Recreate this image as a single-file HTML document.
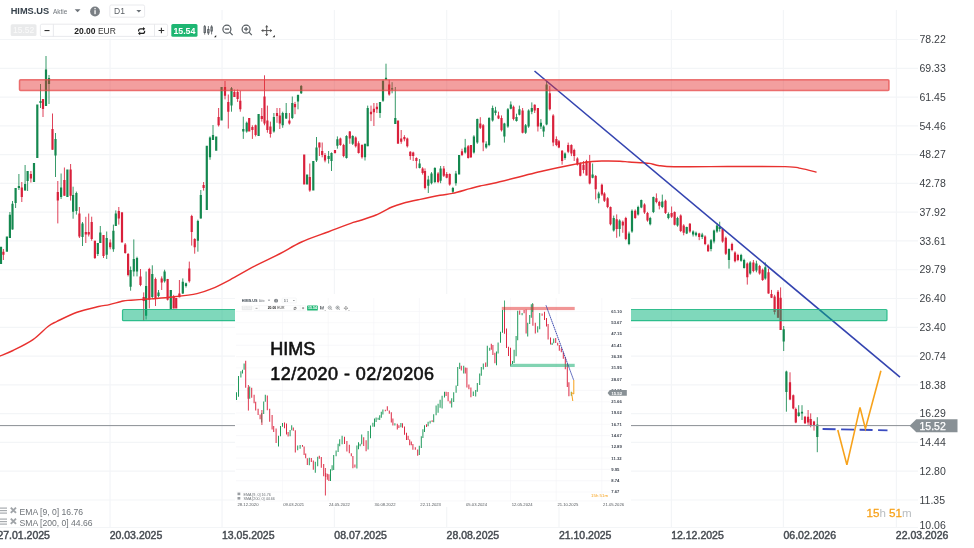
<!DOCTYPE html>
<html><head><meta charset="utf-8"><title>HIMS.US</title>
<style>
html,body{margin:0;padding:0;background:#fff;width:974px;height:548px;overflow:hidden;font-family:"Liberation Sans",sans-serif}
svg{position:absolute;left:0;top:0;display:block}
</style></head><body>
<svg width="974" height="548" viewBox="0 0 974 548" style="will-change:transform">
<rect width="974" height="548" fill="#fff"/>
<g stroke="#f3f5f7" stroke-width="1.2"><line x1="0" y1="39.5" x2="918" y2="39.5"/><line x1="0" y1="68.28" x2="918" y2="68.28"/><line x1="0" y1="97.06" x2="918" y2="97.06"/><line x1="0" y1="125.84" x2="918" y2="125.84"/><line x1="0" y1="154.62" x2="918" y2="154.62"/><line x1="0" y1="183.4" x2="918" y2="183.4"/><line x1="0" y1="212.18" x2="918" y2="212.18"/><line x1="0" y1="240.96" x2="918" y2="240.96"/><line x1="0" y1="269.74" x2="918" y2="269.74"/><line x1="0" y1="298.52" x2="918" y2="298.52"/><line x1="0" y1="327.3" x2="918" y2="327.3"/><line x1="0" y1="356.08" x2="918" y2="356.08"/><line x1="0" y1="384.86" x2="918" y2="384.86"/><line x1="0" y1="413.64" x2="918" y2="413.64"/><line x1="0" y1="442.42" x2="918" y2="442.42"/><line x1="0" y1="471.2" x2="918" y2="471.2"/><line x1="0" y1="499.98" x2="918" y2="499.98"/><line x1="0" y1="527.5" x2="918" y2="527.5"/><line x1="110.05" y1="10" x2="110.05" y2="527.5"/><line x1="222.05" y1="10" x2="222.05" y2="527.5"/><line x1="334.4" y1="10" x2="334.4" y2="527.5"/><line x1="446.7" y1="10" x2="446.7" y2="527.5"/><line x1="559" y1="10" x2="559" y2="527.5"/><line x1="671.4" y1="10" x2="671.4" y2="527.5"/><line x1="783.4" y1="10" x2="783.4" y2="527.5"/><line x1="896.4" y1="10" x2="896.4" y2="527.5"/></g>
<path d="M9.9 212V238M12.5 201V229.6M15.6 188V208M18.9 174V190M25.1 165V190.5M27.6 171V191M40.5 84V108M46 56V106M49 75V104M55.5 133V177M61.1 173.5V199M73.1 186.7V218.7M76.4 191.6V214.6M82.5 222V246M97.8 243V256M100.3 226V243M106.7 231.5V259M113.4 224.6V251.8M115.8 210.4V225.9M130.6 266.5V290.7M133.8 239.4V276.4M137 256.7V276.4M146.1 271.5V319.5M152.3 265.3V298.6M158.5 290V297.3M164.6 269.7V282.6M170.8 290V309.7M182.8 278.4V294M186 282.6V287.5M197.9 219.7V251.7M200.8 190V218.5M210 136.4V159.8M213 125V139M231.5 87V111.7M243.3 116.7V138.9M246.7 121.6V132.7M273.9 113V132.7M282.7 111.7V127.8M286.2 103V119M292.3 96.5V119.1M298 94.5V109.3M301.2 85V94M316.5 137V162M328.6 151V163.5M331.5 152.4V171M337.4 136.4V148.7M346.5 135.2V158.6M352.7 135.2V145M365 143.8V160.5M367.7 105.6V146.2M380 102V117.9M383 79.7V101.9M386 63.7V79.7M392.1 82.2V93.3M395.3 87V124M419.6 159V168.4M428.3 175.8V193M431.5 172.1V184.4M434.9 167.2V183.2M440.6 166V183.2M452.9 186.9V193M455.9 170.9V185.7M465.2 138.9V153.6M473.9 135.2V153.6M477.3 118.6V143.8M486.2 141.3V148.7M489.1 117.2V146.2M492.6 105.6V121.6M495.5 106.8V115.4M504.4 122.8V142.6M507.9 108V127.8M510.8 101.4V109.3M516.5 113.7V121.6M519.4 105.6V115.4M525.6 124V133.9M528.6 109.3V127.8M531.8 102.4V114.2M540.9 119.1V129M543.6 125.3V136.9M546.6 81V125.3M565 152.4V159.8M592.6 163.5V178.3M598.7 191.7V203.3M613.7 215.6V231.6M619.6 219.3V236.5M629 231.6V245.2M632 209.4V232.8M638.1 205.7V215.6M641.3 199.6V208.2M650.2 216.8V225.4M653.4 196.6V213.1M662.3 194.6V208.2M668.4 212.4V219.3M677.5 216.8V226.7M686.7 226.7V234.1M693.1 230.4V236.5M696 231.6V236.5M702.2 232.8V239M711 239V251.3M714 229.6V243.4M717 223V232.8M719.7 221.7V231.6M729 248.4V268.6M741.1 253.8V261.7M744.1 258.7V268.6M750.2 261.2V274.7M756.4 260.7V272.3M765.3 262.4V279.7M783.7 326V351M786.4 370.7V411.7M798.7 405.2V416.7M802 405.2V420M817.3 417.2V452.2" stroke="#14884f" stroke-width="1" stroke-opacity="0.85" fill="none"/><path d="M-0.1 246.8h2.2v17.2h-2.2zM5.8 236.5h2.2v15.2h-2.2zM8.8 214.8h2.2v23.2h-2.2zM11.4 203.7h2.2v25.9h-2.2zM14.5 188h2.2v15h-2.2zM17.8 186h2.2v2h-2.2zM24 184h2.2v6.5h-2.2zM26.5 171h2.2v10h-2.2zM32.9 163h2.2v19h-2.2zM36.2 104.5h2.2v53.5h-2.2zM39.4 101h2.2v2h-2.2zM44.9 69.5h2.2v36.5h-2.2zM47.9 78h2.2v6h-2.2zM54.4 139h2.2v16.5h-2.2zM60 187.5h2.2v9.5h-2.2zM66.3 169.4h2.2v27.6h-2.2zM72 195h2.2v16.8h-2.2zM75.3 193h2.2v18h-2.2zM81.4 223.4h2.2v13.6h-2.2zM96.7 243h2.2v11h-2.2zM99.2 232.5h2.2v10.5h-2.2zM105.6 238h2.2v16.7h-2.2zM112.3 230.8h2.2v18.5h-2.2zM114.7 213.6h2.2v12.3h-2.2zM129.5 270h2.2v16.7h-2.2zM132.7 259h2.2v12.5h-2.2zM135.9 258h2.2v13.5h-2.2zM145 286h2.2v29.8h-2.2zM151.2 274h2.2v23h-2.2zM157.4 292.4h2.2v3.6h-2.2zM163.5 271.5h2.2v9.8h-2.2zM169.7 290h2.2v19h-2.2zM181.7 281.8h2.2v11.8h-2.2zM184.9 283.3h2.2v2.7h-2.2zM196.8 221h2.2v19.7h-2.2zM199.7 195h2.2v23.5h-2.2zM205.7 145.8h2.2v64.1h-2.2zM208.9 137.6h2.2v19.7h-2.2zM211.9 135h2.2v5h-2.2zM215.1 136.4h2.2v14.3h-2.2zM220.5 87h2.2v33.4h-2.2zM230.4 88.3h2.2v17.3h-2.2zM242.2 129h2.2v2.5h-2.2zM245.6 122.8h2.2v8.7h-2.2zM257.5 114h2.2v22h-2.2zM272.8 117h2.2v14.5h-2.2zM281.6 113h2.2v12.3h-2.2zM285.1 113h2.2v5.6h-2.2zM291.2 103h2.2v15h-2.2zM296.9 95h2.2v6.4h-2.2zM300.1 86h2.2v7.3h-2.2zM306 174.6h2.2v9.8h-2.2zM312.2 161h2.2v29.6h-2.2zM315.4 147.5h2.2v13h-2.2zM327.5 156h2.2v3h-2.2zM330.4 153h2.2v8h-2.2zM336.3 139.3h2.2v6.5h-2.2zM345.4 136h2.2v22h-2.2zM351.6 136h2.2v7.8h-2.2zM363.9 143.8h2.2v13.5h-2.2zM366.6 108h2.2v38.2h-2.2zM378.9 102h2.2v11h-2.2zM381.9 81h2.2v19.7h-2.2zM384.9 77.7h2.2v2h-2.2zM391 88.3h2.2v1.3h-2.2zM394.2 118h2.2v6h-2.2zM418.5 163.5h2.2v4.5h-2.2zM427.2 179.5h2.2v6.2h-2.2zM430.4 173.4h2.2v9.8h-2.2zM433.8 168h2.2v14h-2.2zM439.5 168.4h2.2v12.3h-2.2zM451.8 188h2.2v3.8h-2.2zM454.8 173.4h2.2v9.8h-2.2zM458 154.9h2.2v19.7h-2.2zM464.1 147.5h2.2v4.9h-2.2zM472.8 136.4h2.2v16h-2.2zM476.2 119.1h2.2v23.5h-2.2zM485.1 143.8h2.2v3.7h-2.2zM488 118h2.2v27h-2.2zM491.5 108h2.2v12.4h-2.2zM494.4 110.5h2.2v2.5h-2.2zM503.3 123.6h2.2v12.8h-2.2zM506.8 109.3h2.2v17.2h-2.2zM509.7 104.4h2.2v4.4h-2.2zM515.4 117h2.2v4.1h-2.2zM518.3 109.3h2.2v5.4h-2.2zM524.5 125.3h2.2v7.4h-2.2zM527.5 110.5h2.2v16h-2.2zM530.7 108h2.2v3.7h-2.2zM539.8 122.8h2.2v3.7h-2.2zM542.5 126.5h2.2v5h-2.2zM545.5 84.6h2.2v40h-2.2zM563.9 153.6h2.2v4.4h-2.2zM591.5 174.4h2.2v3.4h-2.2zM597.6 193.4h2.2v4.9h-2.2zM612.6 218h2.2v12.4h-2.2zM618.5 220.5h2.2v8.5h-2.2zM627.9 233.6h2.2v10.4h-2.2zM630.9 210.7h2.2v20.9h-2.2zM637 207h2.2v7.4h-2.2zM640.2 200h2.2v7.5h-2.2zM649.1 218h2.2v6.2h-2.2zM652.3 197h2.2v15h-2.2zM661.2 201.5h2.2v5.5h-2.2zM667.3 213.9h2.2v4.1h-2.2zM676.4 218h2.2v7.4h-2.2zM685.6 227h2.2v6.6h-2.2zM692 231.6h2.2v3h-2.2zM694.9 232.8h2.2v2.5h-2.2zM701.1 234.6h2.2v2.4h-2.2zM709.9 240.2h2.2v8.7h-2.2zM712.9 230.4h2.2v11.1h-2.2zM715.9 225.4h2.2v6.2h-2.2zM718.6 226.7h2.2v2.4h-2.2zM727.9 248.9h2.2v11.1h-2.2zM740 255h2.2v5.7h-2.2zM743 260h2.2v8h-2.2zM749.1 262.4h2.2v11.1h-2.2zM755.3 263.6h2.2v6.9h-2.2zM764.2 267.3h2.2v11.1h-2.2zM782.6 329.3h2.2v12.3h-2.2zM785.3 371.5h2.2v20.5h-2.2zM797.6 412.6h2.2v3.3h-2.2zM800.9 411.7h2.2v1.7h-2.2zM816.2 424.6h2.2v12.4h-2.2z" fill="#14884f"/><path d="M3.4 249V260M21.8 182V202M30.9 171V182.5M43 99V117M52.5 113.5V149.7M57.8 181V223.4M64.4 167.5V195.7M70.6 164V200.6M79.4 207V238M85.8 216.8V243M88.7 213.5V236.5M91.7 216.7V240.7M94.9 240.7V259M103.5 235V258M110.2 239.4V249.3M118.8 207V224.6M125.2 243V253.7M128.1 253V276.4M140.5 269V286.2M143.7 292.4V320.7M149.3 267.8V308.4M155.5 277.6V306M161.7 276.4V290M167.6 278.9V300.5M173.7 294.9V308.4M179.4 280V297.3M189.3 261.6V282.6M191.7 214.8V245.6M194.7 238.2V253.7M203.6 182V190.6M218.6 108V126.5M225 81V99.4M228.3 94.5V128.5M234.4 89.6V97M237.6 89.6V101.9M240.3 90.8V111.7M252.4 125.3V138.9M255.6 124.6V136.4M261.8 108V121.6M264.5 75.3V125.3M267.4 105.6V132.7M270.4 121.6V137.6M277 108V122.8M279.8 108V129M289.4 113V124.6M295 101.9V114.2M309.8 163.5V191.8M319.4 142.5V156M322.2 142.5V157.3M325 153V162.3M335 150V153.6M340.4 137.6V145.8M343.6 143.8V157.3M349.8 131V143.8M355.7 136.4V147.5M358.6 141.3V153.6M362 144.3V158.6M371 105.6V121.1M373.9 103V126M376.9 103V113M389.2 79.7V95.7M401.2 130V143.8M404.4 135.2V141.3M407.3 137.6V147.5M410.3 151.2V159.8M413.2 151.7V161M416.4 157.3V168.4M422.6 167.2V174.6M425 168.4V189.4M438.1 172.1V183.2M443.8 166V177M446.7 172.1V178.3M449.7 173.4V185.7M462 148.7V156.1M468.2 145V158.6M470.9 145V158M480.3 117.2V129M483.2 124V151.2M498.5 111.7V119.1M501.5 115.4V131.5M513.5 105.6V120.4M522.6 108V133.4M534.7 104.4V113M537.9 108V131.5M549.8 85.9V110.5M553.2 114.2V146.2M556.4 136.4V146.2M558.9 140V148.2M562.1 150V164.7M568.2 142.6V153.2M571.4 144.3V156.1M574.2 148.7V161M577.4 157.3V165.5M580.3 162.3V176.3M583.5 161V173.4M586.5 159.8V175.4M589.7 154.9V184.4M595.7 175V199.6M601.9 183.6V195.9M604.4 192.2V202M607.6 197.1V208.2M610.5 206.5V225.4M616.7 214.4V237.8M622.8 220.5V232.8M625.8 216.8V240.2M635.2 209.4V218.8M644.5 203.3V213.9M647.5 211.9V221.7M656.4 193.4V203.3M659.3 200.8V209.4M665.5 199.6V213.9M671.6 206.5V218M674.6 211.4V225.4M680.7 214.4V232.1M683.7 224.2V235.3M689.9 223V232.8M699.2 232.8V240.2M705.1 235.3V245.2M708.1 243.9V251.8M722.6 227.9V242.7M725.8 236.5V255M732 242.7V251.3M735 251.3V262.4M737.9 253.8V261.2M747.3 262.4V284.6M753.4 260V272.3M759.6 264.9V274.7M762.6 268.6V280.9M768.5 268.6V293.7M771.5 289.9V298M774.6 294.8V314.5M778 290V317.8M780.6 287.4V330M790 372.3V400.2M793.3 394.5V409.3M795.8 407.6V423.2M805 415.9V424M808.1 410V424.9M810.7 413.4V427.3M814 420.8V430.6" stroke="#d9203b" stroke-width="1" stroke-opacity="0.85" fill="none"/><path d="M2.3 251.7h2.2v3h-2.2zM20.7 187.5h2.2v9.5h-2.2zM29.8 174h2.2v4.5h-2.2zM41.9 99h2.2v10h-2.2zM51.4 129h2.2v20.7h-2.2zM56.7 192h2.2v8.6h-2.2zM63.3 180h2.2v15.7h-2.2zM69.5 169.4h2.2v26.3h-2.2zM78.3 213.6h2.2v22.9h-2.2zM84.7 232h2.2v2.5h-2.2zM87.6 232h2.2v2.5h-2.2zM90.6 222h2.2v17h-2.2zM93.8 240.7h2.2v17.3h-2.2zM102.4 235h2.2v21h-2.2zM109.1 242.4h2.2v4.9h-2.2zM117.7 211h2.2v7.5h-2.2zM120.9 212.3h2.2v30.1h-2.2zM124.1 244.4h2.2v8.6h-2.2zM127 254h2.2v21h-2.2zM139.4 276.4h2.2v8.6h-2.2zM142.6 297h2.2v4h-2.2zM148.2 269h2.2v30.8h-2.2zM154.4 278.9h2.2v20.1h-2.2zM160.6 278.4h2.2v4.2h-2.2zM166.5 279h2.2v20.8h-2.2zM172.6 296.6h2.2v11.8h-2.2zM175.1 298h2.2v10.4h-2.2zM178.3 293.6h2.2v3.7h-2.2zM188.2 268.5h2.2v12.8h-2.2zM190.6 216h2.2v16h-2.2zM193.6 239h2.2v8.3h-2.2zM202.5 185h2.2v3h-2.2zM217.5 117h2.2v8.3h-2.2zM223.9 87h2.2v8.7h-2.2zM227.2 102h2.2v9.7h-2.2zM233.3 92h2.2v5h-2.2zM236.5 92h2.2v7h-2.2zM239.2 100.7h2.2v8.6h-2.2zM248.1 118h2.2v13.5h-2.2zM251.3 127h2.2v3h-2.2zM254.5 125.3h2.2v9.7h-2.2zM260.7 116h2.2v3h-2.2zM263.4 96.5h2.2v27.1h-2.2zM266.3 120.4h2.2v9.6h-2.2zM269.3 126.5h2.2v7.5h-2.2zM275.9 113h2.2v3h-2.2zM278.7 115.4h2.2v8.2h-2.2zM288.3 120.4h2.2v3.2h-2.2zM293.9 103.9h2.2v3.4h-2.2zM303.1 154.4h2.2v30h-2.2zM308.7 177h2.2v13.6h-2.2zM318.3 142.5h2.2v5h-2.2zM321.1 151h2.2v4h-2.2zM323.9 155h2.2v5.5h-2.2zM333.9 150h2.2v3h-2.2zM339.3 138.4h2.2v6.6h-2.2zM342.5 145h2.2v11h-2.2zM348.7 131.5h2.2v6.9h-2.2zM354.6 137.6h2.2v8.6h-2.2zM357.5 143.3h2.2v9.7h-2.2zM360.9 145h2.2v12.3h-2.2zM369.9 111.7h2.2v2.5h-2.2zM372.8 108.8h2.2v3.4h-2.2zM375.8 106.8h2.2v2.5h-2.2zM388.1 84.6h2.2v9.9h-2.2zM396.9 120.4h2.2v23.4h-2.2zM400.1 138.4h2.2v3.4h-2.2zM403.3 137h2.2v2.3h-2.2zM406.2 138.4h2.2v7.8h-2.2zM409.2 151.7h2.2v4.3h-2.2zM412.1 152.4h2.2v3.6h-2.2zM415.3 158h2.2v3h-2.2zM421.5 168.4h2.2v4.5h-2.2zM423.9 171h2.2v17h-2.2zM437 173.4h2.2v8.6h-2.2zM442.7 168.4h2.2v7.4h-2.2zM445.6 173.9h2.2v3.9h-2.2zM448.6 173.9h2.2v10.5h-2.2zM460.9 151.2h2.2v3.7h-2.2zM467.1 146.2h2.2v11.8h-2.2zM469.8 145h2.2v12.3h-2.2zM479.2 123.6h2.2v4.2h-2.2zM482.1 125.3h2.2v17.3h-2.2zM497.4 115.4h2.2v3.2h-2.2zM500.4 118h2.2v12.2h-2.2zM512.4 106.8h2.2v12.3h-2.2zM521.5 110.5h2.2v22.2h-2.2zM533.6 104.8h2.2v5.7h-2.2zM536.8 108h2.2v18.5h-2.2zM548.7 93.3h2.2v16h-2.2zM552.1 115.4h2.2v27.2h-2.2zM555.3 138.9h2.2v6.1h-2.2zM557.8 141.3h2.2v6.2h-2.2zM561 150.7h2.2v10.3h-2.2zM567.1 145h2.2v6.7h-2.2zM570.3 145h2.2v8.6h-2.2zM573.1 150h2.2v6h-2.2zM576.3 158.6h2.2v6.1h-2.2zM579.2 163.5h2.2v12.3h-2.2zM582.4 164.7h2.2v5.3h-2.2zM585.4 161h2.2v14.4h-2.2zM588.6 162.3h2.2v21.3h-2.2zM594.6 176h2.2v13.2h-2.2zM600.8 184.8h2.2v9.8h-2.2zM603.3 193.4h2.2v7.4h-2.2zM606.5 198.3h2.2v8.7h-2.2zM609.4 207h2.2v17.2h-2.2zM615.6 219.3h2.2v9.7h-2.2zM621.7 221.7h2.2v3.7h-2.2zM624.7 218h2.2v21h-2.2zM634.1 210.7h2.2v7.3h-2.2zM643.4 204.5h2.2v7.9h-2.2zM646.4 213h2.2v7.5h-2.2zM655.3 198.3h2.2v3.7h-2.2zM658.2 202h2.2v3.7h-2.2zM664.4 200.8h2.2v12.2h-2.2zM670.5 213h2.2v3.8h-2.2zM673.5 211.9h2.2v12.8h-2.2zM679.6 215.6h2.2v15.4h-2.2zM682.6 225.4h2.2v7.4h-2.2zM688.8 223.7h2.2v7.9h-2.2zM698.1 233.6h2.2v3.4h-2.2zM704 236.5h2.2v7.5h-2.2zM707 245.2h2.2v6.1h-2.2zM721.5 229.1h2.2v12.4h-2.2zM724.7 237.8h2.2v16h-2.2zM730.9 243.9h2.2v6.1h-2.2zM733.9 252.6h2.2v8.6h-2.2zM736.8 255h2.2v5h-2.2zM746.2 263.6h2.2v13.6h-2.2zM752.3 262.4h2.2v8.6h-2.2zM758.5 266h2.2v7.5h-2.2zM761.5 269.8h2.2v10.2h-2.2zM767.4 272.3h2.2v21.2h-2.2zM770.4 294h2.2v3.7h-2.2zM773.5 296.4h2.2v15.6h-2.2zM776.9 291.8h2.2v26h-2.2zM779.5 297.7h2.2v32.3h-2.2zM788.9 382.2h2.2v17.2h-2.2zM792.2 395.3h2.2v13.2h-2.2zM794.7 409h2.2v13.4h-2.2zM803.9 416.7h2.2v6.5h-2.2zM807 416.7h2.2v5.7h-2.2zM809.6 419.1h2.2v6.6h-2.2zM812.9 421.6h2.2v3.3h-2.2z" fill="#d9203b"/>
<path d="M0 356C2.17 355.08 7.5 353.23 13 350.5C18.5 347.77 27.17 343.6 33 339.6C38.83 335.6 44 329.53 48 326.5C52 323.47 52.17 323.78 57 321.4C61.83 319.02 70.07 314.68 77 312.2C83.93 309.72 93.2 307.77 98.6 306.5C104 305.23 105.33 305.52 109.4 304.6C113.47 303.68 119.4 301.73 123 301C126.6 300.27 126.83 300.53 131 300.2C135.17 299.87 144.33 299.25 148 299C151.67 298.75 148.92 299.03 153 298.7C157.08 298.37 165.17 297.85 172.5 297C179.83 296.15 190.42 294.98 197 293.6C203.58 292.22 206.5 291 212 288.7C217.5 286.4 222.9 283.55 230 279.8C237.1 276.05 246.38 270.5 254.6 266.2C262.82 261.9 271.48 258.03 279.3 254C287.12 249.97 293.28 245.72 301.5 242C309.72 238.28 319.98 234.97 328.6 231.7C337.22 228.43 347.97 224.27 353.2 222.4C358.43 220.53 356.2 221.73 360 220.5C363.8 219.27 370.67 217.25 376 215C381.33 212.75 387.48 208.95 392 207C396.52 205.05 398.58 204.53 403.1 203.3C407.62 202.07 412.95 200.93 419.1 199.6C425.25 198.27 434.45 196.33 440 195.3C445.55 194.27 447.4 194.52 452.4 193.4C457.4 192.28 465.4 189.83 470 188.6C474.6 187.37 476.07 186.9 480 186C483.93 185.1 483.12 185.7 493.6 183.2C504.08 180.7 529.77 174.08 542.9 171C556.03 167.92 564.22 166.28 572.4 164.7C580.58 163.12 586.65 162.12 592 161.5C597.35 160.88 599.83 161.05 604.5 161C609.17 160.95 615.92 161.03 620 161.2C624.08 161.37 625.23 161.73 629 162C632.77 162.27 639.2 162.57 642.6 162.8C646 163.03 646.58 162.92 649.4 163.4C652.22 163.88 655.37 165.13 659.5 165.7C663.63 166.27 665.72 166.65 674.2 166.8C682.68 166.95 691.93 166.63 710.4 166.6C728.87 166.57 769.95 166.3 785 166.6C800.05 166.9 795.45 167.47 800.7 168.4C805.95 169.33 813.87 171.57 816.5 172.2" fill="none" stroke="#e8312f" stroke-width="1.45" stroke-linejoin="round"/>
<line x1="534.5" y1="71" x2="900" y2="377.2" stroke="#3444b0" stroke-width="1.6"/><line x1="0" y1="425.6" x2="912" y2="425.6" stroke="#8a8f94" stroke-width="1"/><line x1="822.6" y1="429" x2="887.5" y2="430.3" stroke="#3a4bc0" stroke-width="1.8" stroke-dasharray="13 5.5"/><polyline points="837.8,430 846.9,464.9 860,407.4 865.4,428.7 880.9,370.7" fill="none" stroke="#f7a21b" stroke-width="1.6" stroke-linejoin="miter"/>
<rect x="19.5" y="79.8" width="869.5" height="10.7" rx="1" fill="rgba(228,45,45,0.46)" stroke="rgba(228,70,70,0.72)" stroke-width="1.5"/><rect x="122.5" y="309.5" width="764.5" height="11.2" rx="1" fill="rgba(0,178,120,0.5)" stroke="rgba(25,182,128,0.85)" stroke-width="1.2"/>
<rect x="235" y="294" width="396" height="213" fill="#fff"/><g stroke="#f3f4f6" stroke-width="0.6"><line x1="236" y1="311.5" x2="610" y2="311.5"/><line x1="236" y1="322.78" x2="610" y2="322.78"/><line x1="236" y1="334.06" x2="610" y2="334.06"/><line x1="236" y1="345.34" x2="610" y2="345.34"/><line x1="236" y1="356.62" x2="610" y2="356.62"/><line x1="236" y1="367.9" x2="610" y2="367.9"/><line x1="236" y1="379.18" x2="610" y2="379.18"/><line x1="236" y1="390.46" x2="610" y2="390.46"/><line x1="236" y1="401.74" x2="610" y2="401.74"/><line x1="236" y1="413.02" x2="610" y2="413.02"/><line x1="236" y1="424.3" x2="610" y2="424.3"/><line x1="236" y1="435.58" x2="610" y2="435.58"/><line x1="236" y1="446.86" x2="610" y2="446.86"/><line x1="236" y1="458.14" x2="610" y2="458.14"/><line x1="236" y1="469.42" x2="610" y2="469.42"/><line x1="236" y1="480.7" x2="610" y2="480.7"/><line x1="236" y1="491.98" x2="610" y2="491.98"/><line x1="236" y1="501" x2="610" y2="501"/><line x1="282.6" y1="298" x2="282.6" y2="501"/><line x1="328.2" y1="298" x2="328.2" y2="501"/><line x1="373.8" y1="298" x2="373.8" y2="501"/><line x1="419.4" y1="298" x2="419.4" y2="501"/><line x1="465" y1="298" x2="465" y2="501"/><line x1="510.6" y1="298" x2="510.6" y2="501"/><line x1="556.2" y1="298" x2="556.2" y2="501"/><line x1="601.8" y1="298" x2="601.8" y2="501"/></g><path d="M236 392.31h1v7.7h-1zM238 375.92h1v20.82h-1zM240.4 371.15h1v6.32h-1zM242 369.72h1v3.71h-1zM243.6 363.52h1v6.23h-1zM249.2 386.41h1v12.24h-1zM261.2 413.03h1v9.42h-1zM263.2 401.53h1v12.4h-1zM264.8 394.67h1v7.01h-1zM278 435.78h1v10.72h-1zM280 426.08h1v10.26h-1zM282 423.02h1v3.81h-1zM289.6 430.07h1v6.11h-1zM291.2 425.27h1v5.08h-1zM297.2 445.53h1v4.61h-1zM299.6 445.01h1v3.71h-1zM308.8 457.73h1v7.58h-1zM314.8 461.81h1v10.86h-1zM317.2 456.82h1v9.38h-1zM330 469.14h1v11.89h-1zM331.6 465.13h1v5.27h-1zM333.2 455.06h1v15.03h-1zM335.6 450.38h1v5.79h-1zM337.6 443.78h1v8.25h-1zM339.2 439.37h1v6.84h-1zM341.6 435.87h1v8.26h-1zM356.4 445.53h1v23.06h-1zM358 442.15h1v7.1h-1zM359.6 443.69h1v2.67h-1zM361.2 434.62h1v9.75h-1zM367.6 431.02h1v18.43h-1zM370 425.43h1v12.81h-1zM372.4 422.71h1v4h-1zM374 418.56h1v8.26h-1zM375.6 417.49h1v4.49h-1zM377.6 417.8h1v1.92h-1zM379.2 415.36h1v4.57h-1zM380.8 411.63h1v6.05h-1zM382.4 409.56h1v4.92h-1zM394.4 423.36h1v2.22h-1zM400.4 423.1h1v4.17h-1zM418.8 445.84h1v9.09h-1zM420.8 436.29h1v11.68h-1zM422.4 429.24h1v8.64h-1zM424 425.27h1v6.75h-1zM427.6 421.63h1v4.71h-1zM429.6 420.69h1v2.75h-1zM433.2 414.35h1v7.96h-1zM435.6 405.41h1v9.94h-1zM437.6 403.75h1v8.92h-1zM439.6 399.65h1v8.19h-1zM441.6 395.64h1v12.75h-1zM444 391.83h1v5.66h-1zM451.2 398.3h1v9.28h-1zM453.2 392.15h1v9.96h-1zM455.6 385.61h1v7.2h-1zM457.2 366.91h1v18.98h-1zM459.2 362.8h1v6.14h-1zM463.2 365.8h1v7.58h-1zM472.8 391.56h1v4.36h-1zM475.2 390.11h1v6.27h-1zM476.8 383.01h1v8.67h-1zM479.2 373.51h1v11.41h-1zM480.8 366.9h1v8.96h-1zM482.8 363.38h1v6.23h-1zM486.8 345.75h1v20.99h-1zM489.2 347.87h1v2.95h-1zM496 351.56h1v13.75h-1zM497.6 342.45h1v11.03h-1zM500 331.74h1v10.92h-1zM502 310.06h1v22.7h-1zM512 361.07h1v2.9h-1zM513.6 349.68h1v13.35h-1zM515.6 335.9h1v20.43h-1zM517.2 310.86h1v29.34h-1zM521.6 313.05h1v2.16h-1zM527.2 322.87h1v13.66h-1zM529.2 314.88h1v9.02h-1zM530.8 304.15h1v13.53h-1zM537.2 326.19h1v6.39h-1zM539.2 312.95h1v16.22h-1zM551.6 342.78h1v2.27h-1zM553.2 338.46h1v4.85h-1zM570.8 391.7h1v4.03h-1z" fill="#1f9a5c"/><path d="M245.2 360.76h1v26.87h-1zM247.6 387.53h1v11.13h-1zM251.2 387.87h1v9.84h-1zM253.6 394.64h1v8.66h-1zM255.2 401.75h1v8.83h-1zM257.6 408.75h1v6.18h-1zM259.6 414.38h1v4.85h-1zM266.8 395.38h1v14.98h-1zM269.2 408.81h1v12.96h-1zM271.6 414.9h1v14.6h-1zM273.2 426.08h1v5.81h-1zM275.6 428.43h1v14.46h-1zM284 422.39h1v5.91h-1zM286 423.59h1v10.98h-1zM287.6 432.12h1v4.47h-1zM292.8 427.59h1v3.24h-1zM294.8 430.15h1v22.38h-1zM302 444.98h1v1.69h-1zM303.6 446.45h1v8.66h-1zM305.2 453.39h1v4.9h-1zM306.8 458.22h1v6.75h-1zM310.8 457.96h1v3.95h-1zM312.8 460.4h1v9.28h-1zM318.8 455.69h1v3.14h-1zM320.8 456.96h1v10.85h-1zM323.2 464.07h1v12.27h-1zM325.2 473.03h1v3.93h-1zM326.8 473.67h1v6.14h-1zM328.4 474.22h1v6.86h-1zM344 436.8h1v7.25h-1zM346.4 441.02h1v10.43h-1zM348.8 444.71h1v8.66h-1zM350.8 453.27h1v2.86h-1zM352.4 455.93h1v12.2h-1zM354.4 464.5h1v3.06h-1zM363.2 437.17h1v8.71h-1zM365.6 440.18h1v11.13h-1zM384.8 409.63h1v1.53h-1zM386.8 406.33h1v4.39h-1zM388.8 410.47h1v3.4h-1zM390.8 412.17h1v10.26h-1zM392.4 418.61h1v6.8h-1zM396.8 423.75h1v5.75h-1zM398.4 425.3h1v2.78h-1zM402 423.36h1v4.46h-1zM404 426.4h1v8.33h-1zM406 432.65h1v7.33h-1zM407.6 435.79h1v4.31h-1zM409.2 439.54h1v5.67h-1zM410.8 441.44h1v3.72h-1zM412.4 444.06h1v5.6h-1zM414.8 447.35h1v2.4h-1zM417.2 449.57h1v6.07h-1zM426 424.27h1v2.83h-1zM431.6 420.13h1v1.97h-1zM445.6 391.82h1v4.16h-1zM447.6 391.96h1v9.27h-1zM449.6 400.86h1v2.71h-1zM460.8 365.8h1v4.71h-1zM464.8 367.62h1v5.88h-1zM466.4 367.68h1v19.9h-1zM468.4 384.62h1v4.7h-1zM470.4 387.54h1v9.66h-1zM485.2 362.55h1v4.47h-1zM490.8 343.83h1v5.87h-1zM492.4 344.88h1v10.16h-1zM494.4 352.81h1v10.36h-1zM504 306.82h1v27.04h-1zM506 328.55h1v19.43h-1zM508 346.82h1v9.19h-1zM510 347.78h1v18.05h-1zM519.2 310.57h1v4.25h-1zM523.6 309.95h1v3.38h-1zM525.6 309.61h1v23.89h-1zM532.4 303.88h1v21.94h-1zM534.8 322.81h1v10.74h-1zM541.6 313.57h1v2.13h-1zM544 311.87h1v8.01h-1zM546 317.99h1v8.41h-1zM547.6 324.08h1v15.48h-1zM550 337.42h1v7.2h-1zM555.2 338.03h1v4.93h-1zM557.2 342.66h1v2.77h-1zM558.8 344.99h1v5.83h-1zM560.8 348.31h1v4.05h-1zM562.8 352.14h1v6.7h-1zM564.8 357.36h1v11.83h-1zM566.8 363.79h1v23.19h-1zM568.4 382.21h1v14.13h-1z" fill="#dc2a44"/><path d="M325.4 468V495.5M248.4 385V410.6M261.9 410V425" stroke="#dc2a44" stroke-width="0.9"/><path d="M504.5 300.5V312M532.6 303V312" stroke="#1f9a5c" stroke-width="0.8"/><rect x="501.8" y="306.9" width="72.9" height="3.2" fill="rgba(228,45,45,0.5)"/><rect x="510" y="363.8" width="64.7" height="3.2" fill="rgba(25,175,115,0.55)"/><line x1="546" y1="305.3" x2="573.7" y2="380.2" stroke="#2a3aa8" stroke-width="0.9" stroke-dasharray="1.6 0.5"/><polyline points="573.8,380 573.8,394 571.5,392.5 572.8,401" fill="none" stroke="#f7a21b" stroke-width="1"/><g font-family="Liberation Sans" font-size="4.2" font-weight="bold" fill="#3d4450"><text x="611.3" y="312.9">61.10</text><text x="611.3" y="324.18">53.67</text><text x="611.3" y="335.46">47.15</text><text x="611.3" y="346.74">41.41</text><text x="611.3" y="358.02">36.38</text><text x="611.3" y="369.3">31.95</text><text x="611.3" y="380.58">28.07</text><text x="611.3" y="391.86">24.65</text><text x="611.3" y="403.14">21.66</text><text x="611.3" y="414.42">19.02</text><text x="611.3" y="425.7">16.71</text><text x="611.3" y="436.98">14.67</text><text x="611.3" y="448.26">12.89</text><text x="611.3" y="459.54">11.32</text><text x="611.3" y="470.82">9.95</text><text x="611.3" y="482.1">8.74</text><text x="611.3" y="493.38">7.67</text></g><path d="M607.6 393l2.2-2.9h17v5.7h-17z" fill="#889095"/><text x="611.5" y="394.6" font-family="Liberation Sans" font-size="4.2" font-weight="bold" fill="#fff">15.52</text><g font-family="Liberation Sans" font-size="4.2" fill="#55595e"><text x="237.5" y="505.8">28.12.2020</text><text x="283.2" y="505.8">09.03.2021</text><text x="328.9" y="505.8">24.05.2022</text><text x="374.6" y="505.8">30.08.2022</text><text x="420.3" y="505.8">22.11.2023</text><text x="466" y="505.8">05.03.2024</text><text x="511.7" y="505.8">12.05.2024</text><text x="557.4" y="505.8">21.10.2025</text><text x="603.1" y="505.8">21.05.2026</text></g><g font-family="Liberation Sans" font-size="3.7" fill="#6a6f74"><text x="243.5" y="495.6">EMA [9, 0] 16.76</text><text x="243.5" y="500">SMA [200, 0] 44.66</text></g><g fill="#9a9ea2"><rect x="237.5" y="492.6" width="2.8" height="2.6"/><rect x="237.5" y="497" width="2.8" height="2.6"/></g><text x="591" y="497" font-family="Liberation Sans" font-size="4.4" fill="#f7a21b">15h 51m</text><g transform="translate(237.4,296.1) scale(0.407,0.394)"><rect x="0" y="0" width="150" height="20" fill="#fff"/><rect x="0" y="20" width="280" height="18.5" fill="#fff"/><text x="10.7" y="14.3" font-family="Liberation Sans" font-size="9.9" font-weight="bold" fill="#37424c" textLength="38.5" lengthAdjust="spacingAndGlyphs">HIMS.US</text><text x="52.9" y="14" font-family="Liberation Sans" font-size="6.5" fill="#70767c">Aktie</text><path d="M74.7 9.2h5.8l-2.9 3.1z" fill="#6b7177"/><circle cx="95" cy="11.5" r="4.9" fill="#7a7f84"/><rect x="94.4" y="10.2" width="1.3" height="4" fill="#fff"/><rect x="94.4" y="8" width="1.3" height="1.3" fill="#fff"/><rect x="109.8" y="5" width="34.8" height="12.2" rx="1.5" fill="#fff" stroke="#e3e5e8" stroke-width="0.8"/><text x="114" y="14.3" font-family="Liberation Sans" font-size="8.5" fill="#5a5f64">D1</text><path d="M136.3 9.9h5l-2.5 2.6z" fill="#6b7177"/><rect x="10.7" y="24.3" width="25.8" height="11.8" rx="1.5" fill="#e9eaeb"/><text x="23.6" y="33.3" text-anchor="middle" font-family="Liberation Sans" font-size="8.5" fill="#fafafa">15.52</text><rect x="40.4" y="24.2" width="127.2" height="12.2" rx="1.5" fill="#fff" stroke="#e3e5e8" stroke-width="0.8"/><line x1="53.4" y1="24.2" x2="53.4" y2="36.4" stroke="#e3e5e8" stroke-width="0.8"/><line x1="154.5" y1="24.2" x2="154.5" y2="36.4" stroke="#e3e5e8" stroke-width="0.8"/><rect x="44.5" y="30" width="5" height="1.1" fill="#333"/><path d="M158.6 30.5h5.6M161.4 27.7v5.6" stroke="#333" stroke-width="1.1"/><text x="74.3" y="33.5" font-family="Liberation Sans" font-size="8.5" fill="#222"><tspan font-weight="bold">20.00</tspan> <tspan fill="#333">EUR</tspan></text><path d="M138.6 31.4v-0.6a2 2 0 0 1 2-2h2.6M144.6 30.8v0.6a2 2 0 0 1 -2 2h-2.6" fill="none" stroke="#222" stroke-width="1.2"/><path d="M143 26.9l2.2 1.9l-2.2 1.9z M140.2 31.5l-2.2 1.9l2.2 1.9z" fill="#222"/><rect x="171.3" y="24" width="26.2" height="12.7" rx="1.5" fill="#1db672"/><text x="184.4" y="33.6" text-anchor="middle" font-family="Liberation Sans" font-size="8.8" font-weight="bold" fill="#fff">15.54</text><g stroke="#50565b" stroke-width="0.8" fill="#9ca1a5"><path d="M204.7 25v9.6M208.4 26v9M211.6 25.2v9.2"/><rect x="204" y="26.6" width="1.4" height="6" /><rect x="207.7" y="29.4" width="1.4" height="3.6"/><rect x="210.9" y="26.9" width="1.4" height="4.2"/></g><path d="M214 37.2l2.2-2.2v2.2z" fill="#222"/><g stroke="#585e63" stroke-width="1.2" fill="none"><circle cx="226.9" cy="29.2" r="4"/><path d="M229.8 32.1l2.8 3M224.8 29.2h4.2"/><circle cx="246.1" cy="29.2" r="4"/><path d="M249 32.1l2.8 3M244 29.2h4.2M246.1 27.1v4.2"/></g><g stroke="#555" stroke-width="1" fill="none"><path d="M261.6 30.6h10.2M266.7 25.5v10.2"/></g><g fill="#555"><path d="M261.3 30.6l2-1.6v3.2z M272.1 30.6l-2-1.6v3.2z M266.7 25.2l-1.6 2h3.2z M266.7 36l-1.6-2h3.2z"/></g><path d="M272.6 37.2l2.2-2.2v2.2z" fill="#222"/></g><text x="270.3" y="355.2" font-family="Liberation Sans" font-size="18" fill="#111" stroke="#111" stroke-width="0.6">HIMS</text><text x="270.3" y="379.8" font-family="Liberation Sans" font-size="18" fill="#111" stroke="#111" stroke-width="0.6" letter-spacing="0.45">12/2020 - 02/20206</text>
<g font-family="Liberation Sans" font-size="10.5" fill="#3b3f44"><text x="919.5" y="43.2">78.22</text><text x="919.5" y="71.98">69.33</text><text x="919.5" y="100.76">61.45</text><text x="919.5" y="129.54">54.46</text><text x="919.5" y="158.32">48.27</text><text x="919.5" y="187.1">42.78</text><text x="919.5" y="215.88">37.92</text><text x="919.5" y="244.66">33.61</text><text x="919.5" y="273.44">29.79</text><text x="919.5" y="302.22">26.40</text><text x="919.5" y="331">23.40</text><text x="919.5" y="359.78">20.74</text><text x="919.5" y="388.56">18.38</text><text x="919.5" y="417.34">16.29</text><text x="919.5" y="446.12">14.44</text><text x="919.5" y="474.9">12.80</text><text x="919.5" y="503.68">11.35</text><text x="919.5" y="528.7">10.06</text></g>
<path d="M909.6 425.8 L916.3 419.3 H957.5 V432.3 H916.3 Z" fill="#889095"/><text x="919.5" y="429.6" font-family="Liberation Sans" font-size="10.5" fill="#fff" stroke="#fff" stroke-width="0.25">15.52</text>
<g font-family="Liberation Sans" font-size="10.5" fill="#474c52" stroke="#474c52" stroke-width="0.45"><text x="-2.6" y="538.6">27.01.2025</text><text x="109.7" y="538.6">20.03.2025</text><text x="222" y="538.6">13.05.2025</text><text x="334.3" y="538.6">08.07.2025</text><text x="446.6" y="538.6">28.08.2025</text><text x="558.9" y="538.6">21.10.2025</text><text x="671.2" y="538.6">12.12.2025</text><text x="783.5" y="538.6">06.02.2026</text><text x="895.8" y="538.6">22.03.2026</text></g>
<text x="866.5" y="516.9" font-family="Liberation Sans" font-size="11.6" stroke-width="0.3"><tspan fill="#f7a21b" stroke="#f7a21b">15</tspan><tspan fill="#b9bdc1">h </tspan><tspan fill="#f7a21b" stroke="#f7a21b">51</tspan><tspan fill="#b9bdc1">m</tspan></text>
<g font-family="Liberation Sans" font-size="8.6" fill="#6e7378"><text x="19.5" y="514.7">EMA [9, 0] 16.76</text><text x="19.5" y="525.5">SMA [200, 0] 44.66</text></g><g fill="#a7abaf"><rect x="0" y="507.5" width="7" height="1.2"/><rect x="0" y="510" width="7" height="1.2"/><rect x="0" y="512.5" width="7" height="1.2"/><rect x="0" y="518.5" width="7" height="1.2"/><rect x="0" y="521" width="7" height="1.2"/><rect x="0" y="523.5" width="7" height="1.2"/></g><g stroke="#a0a4a8" stroke-width="1.9"><path d="M10.8 507.7l5.2 5.2M16 507.7l-5.2 5.2"/><path d="M10.8 518.7l5.2 5.2M16 518.7l-5.2 5.2"/></g>
<rect x="0" y="0" width="150" height="20" fill="#fff"/><rect x="0" y="20" width="280" height="18.5" fill="#fff"/><text x="10.7" y="14.3" font-family="Liberation Sans" font-size="9.9" font-weight="bold" fill="#37424c" textLength="38.5" lengthAdjust="spacingAndGlyphs">HIMS.US</text><text x="52.9" y="14" font-family="Liberation Sans" font-size="6.5" fill="#70767c">Aktie</text><path d="M74.7 9.2h5.8l-2.9 3.1z" fill="#6b7177"/><circle cx="95" cy="11.5" r="4.9" fill="#7a7f84"/><rect x="94.4" y="10.2" width="1.3" height="4" fill="#fff"/><rect x="94.4" y="8" width="1.3" height="1.3" fill="#fff"/><rect x="109.8" y="5" width="34.8" height="12.2" rx="1.5" fill="#fff" stroke="#e3e5e8" stroke-width="0.8"/><text x="114" y="14.3" font-family="Liberation Sans" font-size="8.5" fill="#5a5f64">D1</text><path d="M136.3 9.9h5l-2.5 2.6z" fill="#6b7177"/><rect x="10.7" y="24.3" width="25.8" height="11.8" rx="1.5" fill="#e9eaeb"/><text x="23.6" y="33.3" text-anchor="middle" font-family="Liberation Sans" font-size="8.5" fill="#fafafa">15.52</text><rect x="40.4" y="24.2" width="127.2" height="12.2" rx="1.5" fill="#fff" stroke="#e3e5e8" stroke-width="0.8"/><line x1="53.4" y1="24.2" x2="53.4" y2="36.4" stroke="#e3e5e8" stroke-width="0.8"/><line x1="154.5" y1="24.2" x2="154.5" y2="36.4" stroke="#e3e5e8" stroke-width="0.8"/><rect x="44.5" y="30" width="5" height="1.1" fill="#333"/><path d="M158.6 30.5h5.6M161.4 27.7v5.6" stroke="#333" stroke-width="1.1"/><text x="74.3" y="33.5" font-family="Liberation Sans" font-size="8.5" fill="#222"><tspan font-weight="bold">20.00</tspan> <tspan fill="#333">EUR</tspan></text><path d="M138.6 31.4v-0.6a2 2 0 0 1 2-2h2.6M144.6 30.8v0.6a2 2 0 0 1 -2 2h-2.6" fill="none" stroke="#222" stroke-width="1.2"/><path d="M143 26.9l2.2 1.9l-2.2 1.9z M140.2 31.5l-2.2 1.9l2.2 1.9z" fill="#222"/><rect x="171.3" y="24" width="26.2" height="12.7" rx="1.5" fill="#1db672"/><text x="184.4" y="33.6" text-anchor="middle" font-family="Liberation Sans" font-size="8.8" font-weight="bold" fill="#fff">15.54</text><g stroke="#50565b" stroke-width="0.8" fill="#9ca1a5"><path d="M204.7 25v9.6M208.4 26v9M211.6 25.2v9.2"/><rect x="204" y="26.6" width="1.4" height="6" /><rect x="207.7" y="29.4" width="1.4" height="3.6"/><rect x="210.9" y="26.9" width="1.4" height="4.2"/></g><path d="M214 37.2l2.2-2.2v2.2z" fill="#222"/><g stroke="#585e63" stroke-width="1.2" fill="none"><circle cx="226.9" cy="29.2" r="4"/><path d="M229.8 32.1l2.8 3M224.8 29.2h4.2"/><circle cx="246.1" cy="29.2" r="4"/><path d="M249 32.1l2.8 3M244 29.2h4.2M246.1 27.1v4.2"/></g><g stroke="#555" stroke-width="1" fill="none"><path d="M261.6 30.6h10.2M266.7 25.5v10.2"/></g><g fill="#555"><path d="M261.3 30.6l2-1.6v3.2z M272.1 30.6l-2-1.6v3.2z M266.7 25.2l-1.6 2h3.2z M266.7 36l-1.6-2h3.2z"/></g><path d="M272.6 37.2l2.2-2.2v2.2z" fill="#222"/>
</svg>
</body></html>
